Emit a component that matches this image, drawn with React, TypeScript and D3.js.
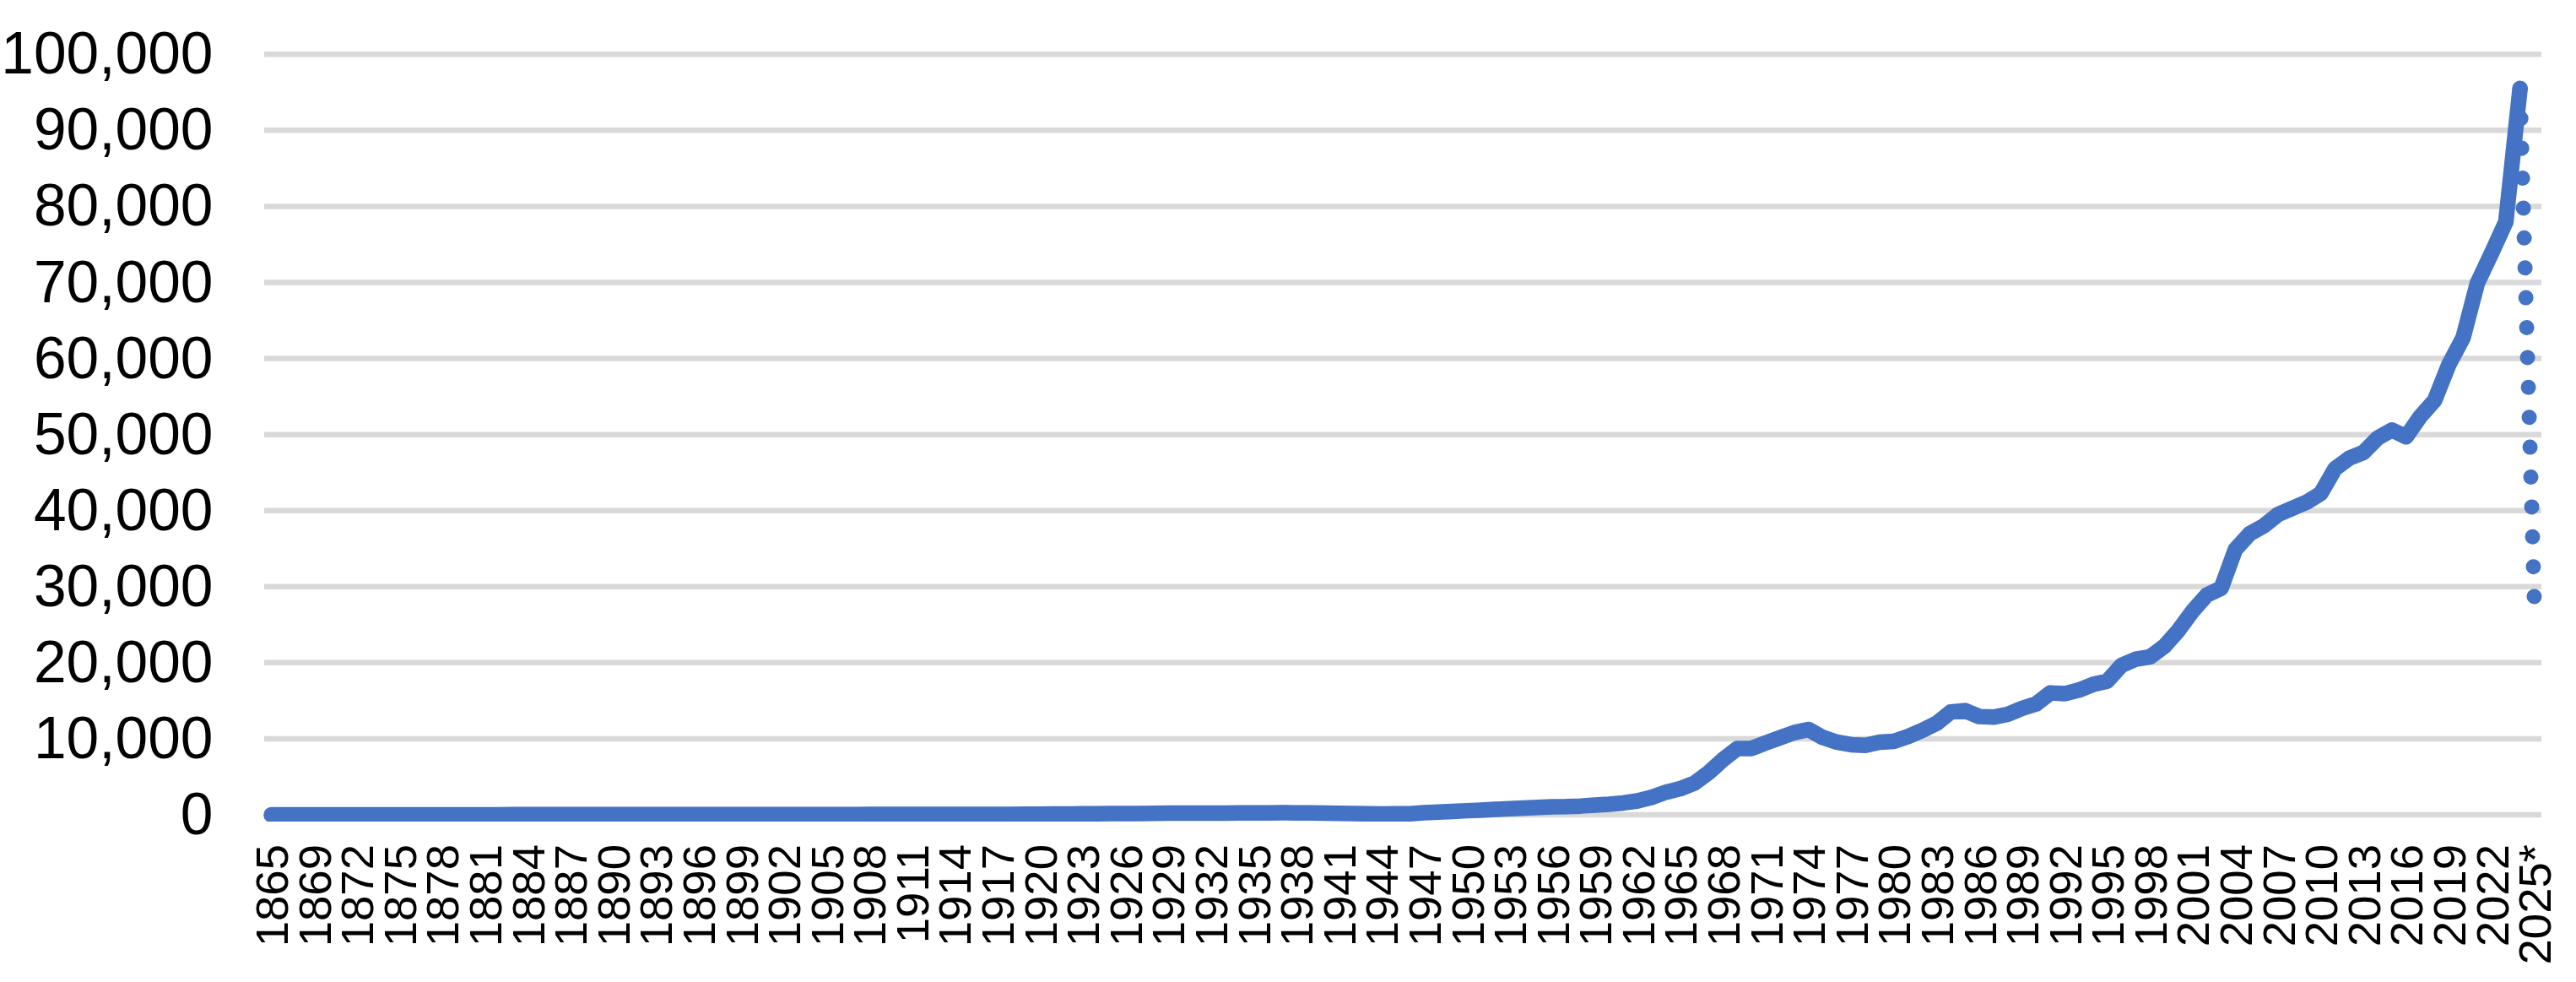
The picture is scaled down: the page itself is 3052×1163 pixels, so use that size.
import React from "react";
import * as d3 from "d3";

// categories (one year missing between 1865 and 1869 in the source)
const years = ["1865", ...d3.range(1867, 2025).map(String), "2025*"];

// 1865, 1867..2024
const actual = [
  0,
  5, 5, 5, 5, 5, 5, 5, 5, 10, 10, 10, 10, 10,
  10, 10, 10, 15, 15, 15, 15, 15, 20, 20, 20, 20, 20, 25, 25, 25, 25, 30, 30, 30,
  30, 30, 35, 35, 35, 40, 40, 40, 45, 45, 45, 50, 50, 50, 55, 55, 60, 60, 65, 70,
  90, 100, 110, 130, 150, 160, 170, 180, 200, 210,
  210, 220, 220, 230, 240, 250, 260, 270, 260, 240,
  220, 200, 180, 130, 110, 130, 150, 280, 350, 440,
  540, 610, 720, 800, 890, 960, 1060, 1070, 1150, 1280,
  1390, 1560, 1830, 2310, 2980, 3430, 4170, 5560, 7260, 8720,
  8720, 9450, 10130, 10810, 11220, 10180, 9550, 9220, 9140, 9550,
  9660, 10290, 11100, 12030, 13510, 13700, 12920, 12840, 13210, 13990,
  14580, 16030, 15920, 16400, 17140, 17580, 19660, 20470, 20770, 22140,
  24250, 26800, 28900, 29800, 34900, 36950, 38000, 39500, 40300, 41100,
  42250, 45500, 46900, 47650, 49550, 50600, 49700, 52400, 54500, 59200,
  62750, 69900, 73850, 77950, 95500,
];

// dotted part: 2024 -> 2025*
const projYears = ["2024", "2025*"];
const projValues = [95500, 28300];

const yTicks = [0, 10000, 20000, 30000, 40000, 50000, 60000, 70000, 80000, 90000, 100000];

const W = 3052;
const H = 1163;
const BLUE = "#4472C4";
const FONT = "'Liberation Sans', Arial, sans-serif";

export default function App() {
  const x = d3.scalePoint<string>().domain(years).range([313, 3011]).padding(0.5);
  const y = d3.scaleLinear().domain([0, 100000]).range([965, 64.3]);
  const fmt = d3.format(",");

  const line = d3
    .line<number>()
    .x((d, i) => x(years[i]) as number)
    .y((d) => y(d));

  const projLine = d3
    .line<number>()
    .x((d, i) => x(projYears[i]) as number)
    .y((d) => y(d));

  const labelled = years.filter((_, i) => i % 3 === 0);

  return (
    <svg
      width={W}
      height={H}
      style={{ position: "absolute", left: 0, top: 0, display: "block", background: "#fff" }}
    >
      <defs>
        <clipPath id="plotClip">
          <rect x={0} y={0} width={W} height={973} />
        </clipPath>
      </defs>

      {/* gridlines */}
      {yTicks.map((t) => (
        <line key={t} x1={313} x2={3011} y1={y(t)} y2={y(t)} stroke="#D9D9D9" strokeWidth={6.5} />
      ))}

      {/* y labels */}
      {yTicks.map((t) => (
        <text
          key={"l" + t}
          x={252.5}
          y={y(t) + 23}
          textAnchor="end"
          fontFamily={FONT}
          fontSize={69.5}
          fill="#000"
        >
          {fmt(t)}
        </text>
      ))}

      {/* x labels */}
      {labelled.map((c) => (
        <text
          key={c}
          transform={`translate(${x(c)},1000) rotate(-90)`}
          dy="0.36em"
          textAnchor="end"
          fontFamily={FONT}
          fontSize={54.5}
          fill="#000"
        >
          {c}
        </text>
      ))}

      <g clipPath="url(#plotClip)">
        <path
          d={projLine(projValues) || ""}
          fill="none"
          stroke={BLUE}
          strokeWidth={18}
          strokeLinecap="round"
          strokeDasharray="0.01 35.4"
        />
        <path
          d={line(actual) || ""}
          fill="none"
          stroke={BLUE}
          strokeWidth={18.5}
          strokeLinejoin="round"
          strokeLinecap="round"
        />
      </g>
    </svg>
  );
}
